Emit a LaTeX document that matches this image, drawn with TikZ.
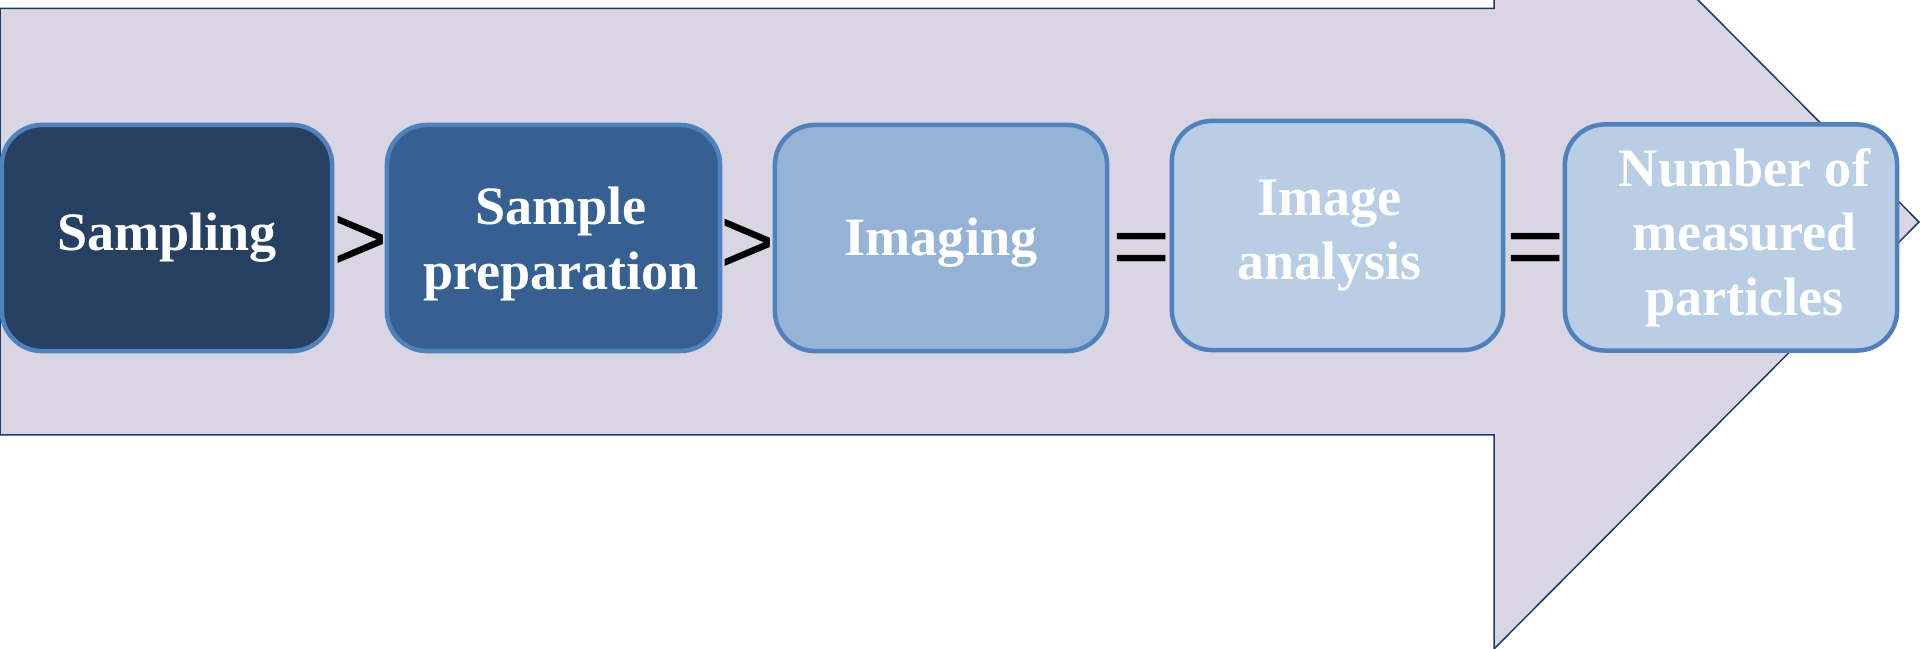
\documentclass[tikz,border=0pt]{standalone}
\usepackage{fontspec}
\setmainfont{Liberation Serif}
\newfontfamily\symfont{Liberation Sans}
\definecolor{arrowfill}{HTML}{D9D5E3}
\definecolor{arrowline}{HTML}{1F3A68}
\definecolor{boxline}{HTML}{4F81BD}
\definecolor{fillA}{HTML}{254061}
\definecolor{fillB}{HTML}{366092}
\definecolor{fillC}{HTML}{95B3D7}
\definecolor{fillD}{HTML}{B9CDE5}
% invisible strut: #1 height above baseline, #2 depth below baseline
\newcommand\mystrutx[2]{\rule[-#2]{0pt}{#1}}
\begin{document}
\begin{tikzpicture}[x=0.01cm,y=-0.01cm,
  stepbox/.style={draw=boxline, line width=0.045cm, rounded corners=0.4cm,
    minimum width=3.32cm, minimum height=2.26cm, inner sep=0pt, align=center,
    text=white, font=\bfseries\fontsize{15.4pt}{18.4pt}\selectfont},
  gtsym/.style={font=\symfont\fontsize{26.5pt}{30pt}\selectfont, anchor=base, inner sep=0pt},
  eqsym/.style={font=\symfont\fontsize{28.4pt}{32pt}\selectfont, anchor=base, inner sep=0pt},
  bigarrow/.style={fill=arrowfill, draw=arrowline, line width=0.015cm, line join=miter}]
\useasboundingbox (0,0) rectangle (1920,649);
\clip (0,0) rectangle (1920,649);
\draw[bigarrow] (0,8.5) -- (1494,8.5) -- (1494,-205) -- (1919,222) -- (1494,649)
  -- (1494,435) -- (0,435) -- cycle;
\node[stepbox, fill=fillA, minimum width=3.30cm] (b1) at (167,238)
  {\mystrutx{0.482cm}{0.117cm}Sampling};
\node[stepbox, fill=fillB, minimum width=3.33cm] (b2) at (553.5,238)
  {\hspace*{0.15cm}\mystrutx{0.491cm}{0cm}Sample\\\hspace*{0.15cm}preparation\mystrutx{0cm}{0.118cm}};
\node[stepbox, fill=fillC] (b3) at (941,238)
  {\mystrutx{0.592cm}{0.118cm}Imaging};
\node[stepbox, fill=fillD, minimum width=3.31cm, minimum height=2.29cm] (b4) at (1337.5,235.5)
  {Image\hspace*{0.16cm}\\analysis\hspace*{0.16cm}};
\node[stepbox, fill=fillD] (b5) at (1731,237.5)
  {\hspace*{0.27cm}Number of\\\hspace*{0.27cm}measured\\\hspace*{0.27cm}particles};
\node[gtsym] (gt1) at (361,271) {>};
\node[gtsym] (gt2) at (748,273.5) {>};
\node[eqsym] (eq1) at (1142,276.3) {\scalebox{1}[0.88]{=}};
\node[eqsym] (eq2) at (1536,276.3) {\scalebox{1}[0.88]{=}};
\end{tikzpicture}
\end{document}
